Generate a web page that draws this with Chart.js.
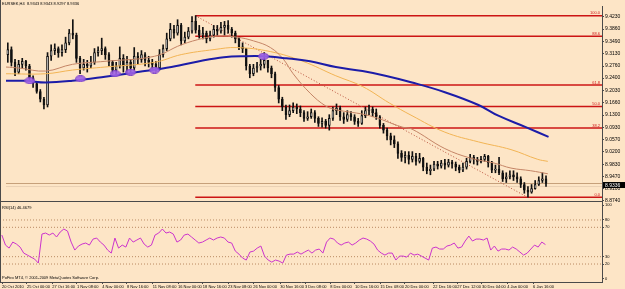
<!DOCTYPE html>
<html>
<head>
<meta charset="utf-8">
<script src="https://cdn.jsdelivr.net/npm/chart.js@4.4.1/dist/chart.umd.min.js"></script>
<style>
  html, body { margin: 0; padding: 0; background: #fde5c6; overflow: hidden; }
  #wrap { position: relative; width: 625px; height: 289px; }
  #mainChart { position: absolute; left: 0; top: 0; }
  #rsiChart { position: absolute; left: 0; top: 202px; }
</style>
</head>
<body>
<div id="wrap">
  <canvas id="mainChart" width="625" height="210"></canvas>
  <canvas id="rsiChart" width="625" height="87"></canvas>
</div>
<script>
// EURSEK H4, 20 Oct 2010 - 6 Jan 2011
const firstOpen = 9.310;
const closes = [
    9.325, 9.287, 9.258, 9.281, 9.290, 9.276, 9.241, 9.224, 9.200, 9.177,
    9.160, 9.305, 9.322, 9.328, 9.316, 9.325, 9.345, 9.374, 9.368, 9.299,
    9.270, 9.281, 9.276, 9.287, 9.316, 9.322, 9.328, 9.310, 9.287, 9.264,
    9.276, 9.299, 9.276, 9.287, 9.270, 9.305, 9.296, 9.310, 9.293, 9.287,
    9.281, 9.270, 9.310, 9.328, 9.357, 9.385, 9.374, 9.397, 9.351, 9.362,
    9.380, 9.409, 9.383, 9.368, 9.374, 9.357, 9.368, 9.385, 9.380, 9.391,
    9.397, 9.385, 9.374, 9.357, 9.333, 9.328, 9.276, 9.253, 9.270, 9.276,
    9.281, 9.293, 9.270, 9.253, 9.212, 9.177, 9.154, 9.131, 9.143, 9.154,
    9.148, 9.137, 9.120, 9.125, 9.137, 9.120, 9.105, 9.111, 9.099, 9.120,
    9.143, 9.151, 9.125, 9.117, 9.131, 9.125, 9.111, 9.105, 9.128, 9.143,
    9.148, 9.137, 9.125, 9.099, 9.085, 9.068, 9.056, 9.044, 9.016, 9.004,
    9.010, 8.998, 9.007, 8.992, 9.001, 8.975, 8.964, 8.969, 8.984, 8.978,
    8.987, 8.981, 8.990, 8.984, 8.975, 8.966, 8.975, 8.992, 9.004, 8.998,
    8.992, 8.998, 9.007, 8.987, 8.966, 8.969, 8.958, 8.940, 8.946, 8.952,
    8.946, 8.940, 8.923, 8.906, 8.900, 8.911, 8.923, 8.935, 8.940, 8.926
];
const highs = [
    9.345, 9.333, 9.296, 9.293, 9.299, 9.293, 9.281, 9.247, 9.229, 9.206,
    9.183, 9.316, 9.339, 9.342, 9.333, 9.339, 9.362, 9.385, 9.414, 9.374,
    9.305, 9.296, 9.293, 9.305, 9.328, 9.333, 9.359, 9.333, 9.316, 9.293,
    9.287, 9.333, 9.310, 9.305, 9.296, 9.331, 9.316, 9.322, 9.316, 9.305,
    9.296, 9.290, 9.325, 9.339, 9.374, 9.403, 9.397, 9.414, 9.403, 9.377,
    9.391, 9.423, 9.426, 9.397, 9.391, 9.380, 9.380, 9.397, 9.397, 9.406,
    9.409, 9.411, 9.391, 9.380, 9.362, 9.345, 9.328, 9.281, 9.281, 9.287,
    9.296, 9.316, 9.293, 9.276, 9.258, 9.218, 9.183, 9.160, 9.160, 9.166,
    9.163, 9.157, 9.143, 9.140, 9.148, 9.143, 9.125, 9.122, 9.117, 9.131,
    9.154, 9.163, 9.157, 9.137, 9.143, 9.140, 9.131, 9.120, 9.143, 9.154,
    9.160, 9.154, 9.148, 9.128, 9.105, 9.091, 9.076, 9.068, 9.050, 9.024,
    9.021, 9.021, 9.021, 9.016, 9.016, 9.004, 8.987, 8.981, 8.992, 8.992,
    8.995, 8.998, 8.998, 8.995, 8.990, 8.981, 8.987, 9.001, 9.013, 9.010,
    9.004, 9.007, 9.013, 9.010, 8.992, 8.981, 9.004, 8.964, 8.958, 8.964,
    8.964, 8.958, 8.946, 8.929, 8.917, 8.923, 8.935, 8.946, 8.958, 8.949
];
const lows = [
    9.287, 9.276, 9.247, 9.253, 9.270, 9.264, 9.232, 9.212, 9.195, 9.169,
    9.148, 9.154, 9.293, 9.310, 9.302, 9.305, 9.316, 9.339, 9.357, 9.287,
    9.253, 9.264, 9.258, 9.270, 9.281, 9.305, 9.310, 9.296, 9.276, 9.253,
    9.247, 9.270, 9.258, 9.253, 9.255, 9.264, 9.281, 9.287, 9.276, 9.273,
    9.267, 9.261, 9.264, 9.302, 9.322, 9.351, 9.359, 9.368, 9.339, 9.345,
    9.357, 9.374, 9.374, 9.359, 9.357, 9.345, 9.351, 9.362, 9.368, 9.374,
    9.368, 9.374, 9.362, 9.345, 9.325, 9.316, 9.264, 9.241, 9.247, 9.258,
    9.264, 9.270, 9.258, 9.241, 9.200, 9.166, 9.143, 9.117, 9.125, 9.137,
    9.134, 9.125, 9.111, 9.114, 9.120, 9.108, 9.096, 9.094, 9.091, 9.085,
    9.114, 9.131, 9.114, 9.105, 9.111, 9.114, 9.102, 9.096, 9.102, 9.122,
    9.131, 9.125, 9.117, 9.091, 9.076, 9.056, 9.041, 9.033, 9.001, 8.992,
    8.987, 8.984, 8.990, 8.981, 8.987, 8.964, 8.955, 8.952, 8.964, 8.969,
    8.972, 8.969, 8.975, 8.972, 8.964, 8.958, 8.961, 8.969, 8.987, 8.984,
    8.981, 8.987, 8.992, 8.975, 8.958, 8.958, 8.952, 8.932, 8.929, 8.940,
    8.935, 8.929, 8.914, 8.897, 8.885, 8.897, 8.909, 8.920, 8.929, 8.917
];
const rsi = [
    59.5, 45.8, 41.7, 49.9, 47.2, 43.1, 34.9, 32.2, 29.4, 26.7,
    21.3, 60.8, 62.2, 59.5, 62.2, 56.8, 63.6, 67.7, 64.9, 49.9,
    39.0, 44.5, 47.2, 48.6, 45.8, 54.0, 55.4, 49.9, 45.8, 39.0,
    34.9, 55.4, 41.7, 45.8, 43.1, 55.4, 49.9, 52.7, 55.4, 47.2,
    43.1, 45.8, 59.5, 62.2, 67.7, 62.2, 63.6, 60.8, 49.9, 52.7,
    59.5, 60.8, 56.8, 52.7, 48.6, 49.9, 52.7, 55.4, 52.7, 55.4,
    56.8, 55.4, 49.9, 48.6, 37.6, 33.5, 28.1, 25.4, 36.3, 37.6,
    41.7, 44.5, 30.8, 25.4, 22.6, 25.4, 24.0, 21.3, 32.2, 33.5,
    33.5, 36.3, 33.5, 36.3, 39.0, 34.9, 39.0, 40.4, 34.9, 49.9,
    55.4, 54.0, 48.6, 45.8, 48.6, 49.9, 45.8, 48.6, 52.7, 55.4,
    54.0, 51.3, 47.2, 39.0, 34.9, 32.2, 34.9, 34.9, 25.4, 30.8,
    30.8, 29.4, 34.9, 32.2, 33.5, 30.8, 28.1, 25.4, 41.7, 43.1,
    40.4, 40.4, 44.5, 45.8, 48.6, 41.7, 43.1, 51.3, 58.1, 51.3,
    54.0, 54.0, 52.7, 55.4, 39.0, 44.5, 37.6, 40.4, 40.4, 39.0,
    43.1, 40.4, 36.3, 32.2, 34.9, 40.4, 45.8, 43.1, 49.9, 46.4679
];

// moving averages, sampled along the curves (x = bar index)
const slowMaX = [-0.5, 5.0, 10.5, 17.9, 26.9, 36.0, 45.3, 54.3, 59.8, 65.3, 70.8, 77.1, 83.7, 90.8, 98.2, 104.5, 111.9, 121.0, 130.3, 135.8, 143.4, 149.7];
const slowMaY = [9.232, 9.232, 9.227, 9.232, 9.244, 9.258, 9.273, 9.293, 9.302, 9.305, 9.305, 9.299, 9.290, 9.273, 9.261, 9.247, 9.227, 9.198, 9.160, 9.128, 9.094, 9.065];
const midMaX = [-0.5, 10.5, 17.9, 26.9, 40.6, 48.0, 57.1, 63.4, 72.7, 81.7, 90.8, 98.2, 105.6, 111.9, 121.0, 130.3, 139.3, 146.7, 149.5];
const midMaY = [9.253, 9.253, 9.264, 9.273, 9.287, 9.310, 9.325, 9.331, 9.319, 9.290, 9.247, 9.215, 9.166, 9.128, 9.079, 9.050, 9.027, 8.998, 8.992];
const fastMaX = [-0.5, 3.1, 10.5, 17.9, 26.9, 40.6, 48.0, 54.3, 58.4, 63.4, 68.0, 72.7, 76.3, 79.0, 83.7, 88.0, 90.8, 100.1, 109.2, 111.9, 121.0, 128.3, 134.6, 139.3, 144.8, 149.5];
const fastMaY = [9.273, 9.270, 9.261, 9.281, 9.290, 9.305, 9.339, 9.359, 9.365, 9.362, 9.351, 9.331, 9.296, 9.253, 9.195, 9.157, 9.146, 9.128, 9.094, 9.088, 9.030, 9.001, 8.987, 8.972, 8.964, 8.955];

// purple markers drawn on the slow MA
const markX = [6.1, 20.1, 29.7, 34.0, 40.6, 70.8];
const markY = [9.232, 9.238, 9.253, 9.258, 9.264, 9.305];

// fibonacci retracement
const fibHigh = 9.426;
const fibLow = 8.885;
const fibStart = 51.9;
const fibEndLow = 143.9;
const fibLevels = [100, 88.6, 61.8, 50, 38.2, 0];

const bidPrice = 8.926;
const askPrice = 8.917;
const bidText = '8.9336';
const headerText = 'EURSEK,H4  8.9343 8.9343 8.9297 8.9336';

const priceTicks = [9.4230, 9.3860, 9.3490, 9.3130, 9.2760, 9.2400, 9.2030, 9.1660, 9.1300, 9.0930, 9.0570, 9.0200, 8.9830, 8.9470, 8.9100, 8.8740];
const rsiTicks = [100, 80, 70, 30, 20, 0];
const rsiLevels = [80, 70, 30, 20];
const timeTickIdx = [0.05, 6.9, 13.8, 20.6, 27.5, 34.3, 41.4, 48.3, 55.1, 62.0, 68.9, 76.3, 83.1, 90.0, 96.8, 103.7, 110.5, 118.2, 124.8, 131.6, 138.5, 145.6];
const timeTickLabels = ['20 Oct 2010', '25 Oct 00:00', '27 Oct 16:00', '1 Nov 08:00', '4 Nov 00:00', '8 Nov 16:00', '11 Nov 08:00', '16 Nov 00:00',
    '18 Nov 16:00', '23 Nov 08:00', '26 Nov 00:00', '30 Nov 16:00', '3 Dec 08:00', '8 Dec 00:00', '10 Dec 16:00', '15 Dec 08:00',
    '20 Dec 00:00', '22 Dec 16:00', '27 Dec 12:00', '30 Dec 04:00', '4 Jan 00:00', '6 Jan 16:00'];

const xMin = -0.5, xMax = 164.5;
const FONT = "'Liberation Sans', Arial, sans-serif";
const AXIS = '#4a4a4a';

const idx = closes.map((_, i) => i);
const opens = closes.map((c, i) => i === 0 ? firstOpen : closes[i - 1]);
const pts = (xs, ys) => xs.map((x, i) => ({ x: x, y: ys[i] }));
const flat = (v, a, b) => [{ x: a, y: v }, { x: b, y: v }];
const fibPrice = l => fibLow + (fibHigh - fibLow) * l / 100;

const zeroPad = s => { s.paddingLeft = 0; s.paddingRight = 0; s.paddingTop = 0; s.paddingBottom = 0; };

// ellipse marker used as point style
const mark = document.createElement('canvas');
mark.width = 11; mark.height = 7;
(function () {
    const c = mark.getContext('2d');
    c.fillStyle = 'rgba(160, 100, 230, 0.9)';
    c.strokeStyle = '#7a3cc8';
    c.beginPath();
    c.ellipse(5.5, 3.5, 5, 3, 0, 0, Math.PI * 2);
    c.fill(); c.stroke();
})();

const mainDecor = {
    id: 'mainDecor',
    afterDraw(chart) {
        const ctx = chart.ctx, a = chart.chartArea, y = chart.scales.y;
        ctx.save();
        ctx.strokeStyle = AXIS; ctx.lineWidth = 1;
        ctx.beginPath();
        ctx.moveTo(0.5, 0); ctx.lineTo(0.5, a.bottom);
        ctx.moveTo(0, a.bottom + 0.5); ctx.lineTo(a.right, a.bottom + 0.5);
        ctx.stroke();

        ctx.font = '4px ' + FONT;
        ctx.fillStyle = '#000';
        ctx.textBaseline = 'middle';
        ctx.fillText(headerText, 2, 4);

        // fib level labels
        ctx.fillStyle = '#d01818';
        ctx.textAlign = 'right';
        ctx.textBaseline = 'bottom';
        fibLevels.forEach(l => {
            ctx.fillText(l.toFixed(1), a.right - 2, y.getPixelForValue(fibPrice(l)) - 0.5);
        });

        // bid price box
        const by = (y.getPixelForValue(bidPrice) + y.getPixelForValue(askPrice)) / 2;
        ctx.fillStyle = '#000';
        ctx.fillRect(a.right + 1, by - 3, 625 - a.right - 1, 6);
        ctx.fillStyle = '#fff';
        ctx.textAlign = 'left';
        ctx.textBaseline = 'middle';
        ctx.font = '5px ' + FONT;
        ctx.fillText(bidText, a.right + 3, by + 0.5);
        ctx.restore();
    }
};

new Chart(document.getElementById('mainChart'), {
    type: 'bar',
    data: {
        datasets: [
            ...fibLevels.map(l => ({
                type: 'line', data: flat(fibPrice(l), fibStart, xMax),
                borderColor: '#cc1414', borderWidth: 1.5, pointRadius: 0, order: 10
            })),
            {
                type: 'line', data: flat(bidPrice, xMin, xMax),
                borderColor: '#c6a07a', borderWidth: 1, pointRadius: 0, order: 9
            },
            {
                type: 'line', data: flat(askPrice, xMin, xMax),
                borderColor: '#ead0b4', borderWidth: 1, pointRadius: 0, order: 9
            },
            {
                type: 'line', data: [{ x: fibStart, y: fibHigh }, { x: fibEndLow, y: fibLow }],
                borderColor: '#b8503c', borderWidth: 1, borderDash: [1, 2], pointRadius: 0, order: 8
            },
            {
                type: 'bar', data: idx.map(i => ({ x: i, y: [lows[i], highs[i]] })),
                backgroundColor: '#111', barThickness: 1, grouped: false, order: 6
            },
            {
                type: 'bar', data: idx.map(i => ({ x: i, y: [opens[i], closes[i]] })),
                backgroundColor: idx.map(i => closes[i] >= opens[i] ? '#ffffff' : '#111111'),
                borderColor: '#111', borderWidth: 1, borderSkipped: false,
                barThickness: 2, minBarLength: 1, grouped: false, order: 5
            },
            {
                type: 'line', data: pts(midMaX, midMaY),
                borderColor: '#f2b454', borderWidth: 1, pointRadius: 0, tension: 0.4, order: 4
            },
            {
                type: 'line', data: pts(fastMaX, fastMaY),
                borderColor: '#c48466', borderWidth: 1, pointRadius: 0, tension: 0.4, order: 3
            },
            {
                type: 'line', data: pts(slowMaX, slowMaY),
                borderColor: '#1c1ca8', borderWidth: 2, pointRadius: 0, tension: 0.4, order: 2
            },
            {
                type: 'scatter', data: pts(markX, markY),
                pointStyle: mark, pointRadius: 5, order: 1
            }
        ]
    },
    options: {
        responsive: false, animation: false, events: [], devicePixelRatio: 1,
        layout: { padding: { top: 0, right: 0, left: 0, bottom: 9 } },
        plugins: { legend: { display: false }, tooltip: { enabled: false } },
        scales: {
            x: { type: 'linear', min: xMin, max: xMax, offset: false, display: false },
            y: {
                position: 'right', min: 8.8739, max: 9.4548,
                afterBuildTicks: s => { s.ticks = priceTicks.map(v => ({ value: v })); },
                afterFit: s => { s.width = 23; zeroPad(s); },
                ticks: { font: { size: 5, family: FONT }, color: '#000', padding: 1, callback: v => v.toFixed(4) },
                grid: { display: true, drawOnChartArea: false, tickLength: 2, color: AXIS },
                border: { display: true, color: AXIS }
            }
        }
    },
    plugins: [mainDecor]
});

const rsiDecor = {
    id: 'rsiDecor',
    afterDraw(chart) {
        const ctx = chart.ctx, a = chart.chartArea;
        ctx.save();
        ctx.strokeStyle = AXIS; ctx.lineWidth = 1;
        ctx.beginPath();
        ctx.moveTo(0.5, 0); ctx.lineTo(0.5, a.bottom);
        ctx.stroke();
        ctx.font = '4px ' + FONT;
        ctx.fillStyle = '#000';
        ctx.textBaseline = 'middle';
        ctx.fillText('RSI(14) ' + rsi[rsi.length - 1].toFixed(4), 2, 6);
        ctx.fillText('PoFiro MT4, \u00a9 2001-2009 MetaQuotes Software Corp.', 2, 76);
        ctx.restore();
    }
};

new Chart(document.getElementById('rsiChart'), {
    type: 'line',
    data: {
        datasets: [
            {
                data: pts(idx, rsi), borderColor: '#cc33cc', borderWidth: 1, pointRadius: 0, order: 1
            },
            ...rsiLevels.map(l => ({
                data: flat(l, xMin, xMax), borderColor: '#b98a62', borderWidth: 1,
                borderDash: [1, 2], pointRadius: 0, order: 2
            }))
        ]
    },
    options: {
        responsive: false, animation: false, events: [], devicePixelRatio: 1,
        layout: { padding: 0 },
        plugins: { legend: { display: false }, tooltip: { enabled: false } },
        scales: {
            x: {
                type: 'linear', min: xMin, max: xMax, offset: false,
                afterBuildTicks: s => { s.ticks = timeTickIdx.map(v => ({ value: v })); },
                afterFit: s => { s.height = 7; zeroPad(s); },
                ticks: {
                    autoSkip: false, maxRotation: 0, align: 'start', padding: 0,
                    font: { size: 4, family: FONT }, color: '#000',
                    callback: (v, i) => timeTickLabels[i]
                },
                grid: { display: true, drawOnChartArea: false, tickLength: 2, color: AXIS },
                border: { display: true, color: AXIS }
            },
            y: {
                position: 'right', min: -4.5, max: 104.5,
                afterBuildTicks: s => { s.ticks = rsiTicks.map(v => ({ value: v })); },
                afterFit: s => { s.width = 23; zeroPad(s); },
                ticks: { font: { size: 4, family: FONT }, color: '#000', padding: 1, callback: v => String(v) },
                grid: { display: true, drawOnChartArea: false, tickLength: 2, color: AXIS },
                border: { display: true, color: AXIS }
            }
        }
    },
    plugins: [rsiDecor]
});
</script>
</body>
</html>
